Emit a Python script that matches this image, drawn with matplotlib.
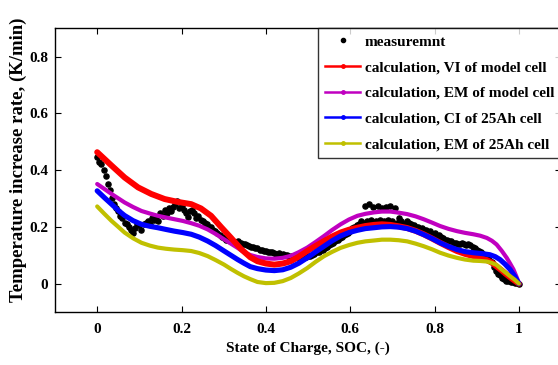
import matplotlib
matplotlib.use("Agg")
import matplotlib.pyplot as plt
from matplotlib.lines import Line2D

plt.rcParams['font.family'] = ['Liberation Serif', 'DejaVu Serif']
plt.rcParams['font.weight'] = 'bold'

# measured points (SOC, K/min)
meas_soc = [0.00, 0.01, 0.02, 0.03, 0.04, 0.05, 0.06, 0.07, 0.08, 0.09,
            0.10, 0.11, 0.12, 0.13, 0.14, 0.15, 0.16, 0.17, 0.18, 0.19,
            0.20, 0.21, 0.22, 0.23, 0.24, 0.25, 0.26, 0.27, 0.28, 0.29,
            0.30, 0.31, 0.32, 0.33, 0.34, 0.35, 0.36, 0.37, 0.38, 0.39,
            0.40, 0.41, 0.42, 0.43, 0.44, 0.45, 0.46, 0.47, 0.48, 0.49,
            0.50, 0.51, 0.52, 0.53, 0.54, 0.55, 0.56, 0.57, 0.58, 0.59,
            0.60, 0.61, 0.62, 0.63, 0.64, 0.65, 0.66, 0.67, 0.68, 0.69,
            0.70, 0.71, 0.72, 0.73, 0.74, 0.75, 0.76, 0.77, 0.78, 0.79,
            0.80, 0.81, 0.82, 0.83, 0.84, 0.85, 0.86, 0.87, 0.88, 0.89,
            0.90, 0.91, 0.92, 0.93, 0.94, 0.95, 0.96, 0.97, 0.98, 0.99, 1.00,
            0.005, 0.015, 0.025, 0.035, 0.045, 0.055, 0.065, 0.075, 0.085, 0.095,
            0.105, 0.115, 0.125, 0.135, 0.145, 0.155, 0.165, 0.175, 0.185, 0.195,
            0.205, 0.215, 0.225, 0.235, 0.245, 0.255, 0.265, 0.275, 0.285, 0.295,
            0.305, 0.315, 0.325, 0.335, 0.345, 0.355, 0.365, 0.375, 0.385, 0.395,
            0.405, 0.415, 0.425, 0.435, 0.445, 0.455, 0.465, 0.475, 0.485, 0.495,
            0.505, 0.515, 0.525, 0.535, 0.545, 0.555, 0.565, 0.575, 0.585, 0.595,
            0.605, 0.615, 0.625, 0.635, 0.645, 0.655, 0.665, 0.675, 0.685, 0.695,
            0.705, 0.715, 0.725, 0.735, 0.745, 0.755, 0.765, 0.775, 0.785, 0.795,
            0.805, 0.815, 0.825, 0.835, 0.845, 0.855, 0.865, 0.875, 0.885, 0.895,
            0.905, 0.915, 0.925, 0.935, 0.945, 0.955, 0.965, 0.975, 0.985, 0.995]
meas_rate = [0.445, 0.42, 0.38, 0.33, 0.28, 0.255, 0.23, 0.21, 0.19, 0.195,
             0.205, 0.21, 0.22, 0.23, 0.235, 0.25, 0.26, 0.265, 0.27, 0.29,
             0.275, 0.25, 0.255, 0.25, 0.24, 0.22, 0.21, 0.20, 0.185, 0.17,
             0.16, 0.155, 0.15, 0.148, 0.144, 0.14, 0.132, 0.128, 0.126, 0.12,
             0.115, 0.11, 0.109, 0.107, 0.105, 0.10, 0.098, 0.095, 0.093, 0.095,
             0.097, 0.10, 0.11, 0.118, 0.126, 0.135, 0.145, 0.155, 0.165, 0.175,
             0.185, 0.20, 0.21, 0.215, 0.22, 0.225, 0.22, 0.225, 0.22, 0.225,
             0.22, 0.215, 0.22, 0.21, 0.215, 0.205, 0.20, 0.195, 0.19, 0.185,
             0.18, 0.17, 0.16, 0.155, 0.15, 0.145, 0.14, 0.14, 0.138, 0.13,
             0.12, 0.11, 0.10, 0.085, 0.06, 0.035, 0.02, 0.01, 0.005, 0.002, 0.0,
             0.43, 0.40, 0.35, 0.30, 0.265, 0.24, 0.215, 0.20, 0.18, 0.21,
             0.19, 0.215, 0.21, 0.225, 0.22, 0.24, 0.25, 0.255, 0.28, 0.265,
             0.26, 0.235, 0.26, 0.23, 0.225, 0.215, 0.20, 0.19, 0.18, 0.165,
             0.155, 0.15, 0.145, 0.15, 0.14, 0.135, 0.13, 0.125, 0.12, 0.115,
             0.11, 0.11, 0.105, 0.10, 0.10, 0.095, 0.092, 0.09, 0.09, 0.094,
             0.098, 0.105, 0.112, 0.12, 0.13, 0.14, 0.15, 0.16, 0.17, 0.18,
             0.195, 0.205, 0.22, 0.275, 0.28, 0.27, 0.275, 0.265, 0.27, 0.275,
             0.265, 0.23, 0.21, 0.22, 0.21, 0.20, 0.19, 0.19, 0.18, 0.175,
             0.165, 0.165, 0.155, 0.15, 0.145, 0.14, 0.145, 0.135, 0.135, 0.125,
             0.115, 0.105, 0.095, 0.075, 0.045, 0.03, 0.015, 0.01, 0.005, 0.001]

# calculation, VI of model cell
vi_soc = [0.0, 0.034, 0.065, 0.097, 0.128, 0.16, 0.191, 0.223, 0.246, 0.27, 0.294,
          0.317, 0.341, 0.363, 0.38, 0.40, 0.42, 0.44, 0.459, 0.478, 0.498, 0.518,
          0.538, 0.557, 0.577, 0.597, 0.617, 0.636, 0.656, 0.675, 0.695, 0.715,
          0.735, 0.755, 0.774, 0.794, 0.813, 0.833, 0.853, 0.872, 0.892, 0.908,
          0.924, 0.936, 0.947, 0.959, 0.971, 0.985, 1.0]
vi_rate = [0.463, 0.416, 0.374, 0.339, 0.316, 0.298, 0.288, 0.280, 0.265, 0.239, 0.199,
           0.162, 0.122, 0.093, 0.079, 0.071, 0.067, 0.071, 0.079, 0.095, 0.115, 0.133,
           0.150, 0.166, 0.180, 0.190, 0.197, 0.203, 0.207, 0.209, 0.207, 0.202,
           0.196, 0.186, 0.174, 0.159, 0.144, 0.129, 0.115, 0.105, 0.097, 0.091,
           0.083, 0.074, 0.061, 0.047, 0.032, 0.016, 0.0]

# calculation, EM of model cell
em_model_soc = [0.0, 0.034, 0.065, 0.085, 0.105, 0.125, 0.144, 0.163, 0.183, 0.203,
                0.223, 0.242, 0.262, 0.281, 0.301, 0.317, 0.333, 0.348, 0.363, 0.38,
                0.40, 0.42, 0.44, 0.459, 0.478, 0.498, 0.518, 0.538, 0.557, 0.577,
                0.597, 0.617, 0.636, 0.656, 0.675, 0.695, 0.715, 0.735, 0.755, 0.774,
                0.794, 0.813, 0.833, 0.853, 0.872, 0.892, 0.908, 0.924, 0.936, 0.947,
                0.959, 0.971, 0.979, 0.987, 0.994, 1.0]
em_model_rate = [0.351, 0.316, 0.286, 0.270, 0.256, 0.247, 0.239, 0.233, 0.227, 0.221,
                 0.213, 0.204, 0.191, 0.175, 0.156, 0.141, 0.126, 0.111, 0.101, 0.094,
                 0.089, 0.088, 0.091, 0.098, 0.111, 0.127, 0.147, 0.168, 0.189, 0.209,
                 0.226, 0.239, 0.246, 0.251, 0.254, 0.254, 0.250, 0.245, 0.237, 0.227,
                 0.215, 0.203, 0.193, 0.185, 0.179, 0.174, 0.169, 0.161, 0.151, 0.138,
                 0.116, 0.091, 0.071, 0.050, 0.025, 0.002]

# calculation, CI of 25Ah cell
ci_soc = [0.0, 0.017, 0.034, 0.05, 0.065, 0.085, 0.105, 0.125, 0.144, 0.163, 0.183,
          0.203, 0.223, 0.242, 0.262, 0.281, 0.301, 0.317, 0.333, 0.348, 0.363, 0.38,
          0.40, 0.42, 0.44, 0.459, 0.478, 0.498, 0.518, 0.538, 0.557, 0.577, 0.597,
          0.617, 0.636, 0.656, 0.675, 0.695, 0.715, 0.735, 0.755, 0.774, 0.794,
          0.813, 0.833, 0.853, 0.872, 0.892, 0.912, 0.931, 0.944, 0.955, 0.967,
          0.979, 0.99, 1.0]
ci_rate = [0.327, 0.303, 0.280, 0.258, 0.240, 0.222, 0.209, 0.202, 0.197, 0.191, 0.185,
           0.180, 0.174, 0.164, 0.150, 0.134, 0.115, 0.100, 0.085, 0.072, 0.060, 0.053,
           0.048, 0.046, 0.049, 0.058, 0.072, 0.091, 0.112, 0.132, 0.151, 0.168, 0.180,
           0.188, 0.194, 0.197, 0.200, 0.201, 0.199, 0.194, 0.185, 0.173, 0.159,
           0.144, 0.131, 0.120, 0.113, 0.109, 0.106, 0.102, 0.095, 0.085, 0.069,
           0.050, 0.026, 0.0]

# calculation, EM of 25Ah cell
em_25_soc = [0.0, 0.017, 0.034, 0.05, 0.065, 0.085, 0.105, 0.125, 0.144, 0.163, 0.183,
             0.203, 0.223, 0.242, 0.262, 0.281, 0.301, 0.317, 0.333, 0.348, 0.363, 0.38,
             0.40, 0.42, 0.44, 0.459, 0.478, 0.498, 0.518, 0.538, 0.557, 0.577, 0.597,
             0.617, 0.636, 0.656, 0.675, 0.695, 0.715, 0.735, 0.755, 0.774, 0.794,
             0.813, 0.833, 0.853, 0.872, 0.892, 0.908, 0.924, 0.936, 0.947, 0.959,
             0.971, 0.981, 0.99, 1.0]
em_25_rate = [0.272, 0.246, 0.221, 0.200, 0.180, 0.160, 0.144, 0.134, 0.127, 0.123, 0.120,
              0.118, 0.115, 0.108, 0.097, 0.083, 0.067, 0.052, 0.038, 0.026, 0.016, 0.006,
              0.002, 0.003, 0.009, 0.020, 0.036, 0.055, 0.077, 0.097, 0.112, 0.126, 0.136,
              0.144, 0.149, 0.152, 0.155, 0.155, 0.153, 0.149, 0.141, 0.132, 0.121,
              0.109, 0.099, 0.091, 0.085, 0.081, 0.080, 0.078, 0.073, 0.066, 0.050,
              0.036, 0.024, 0.014, 0.0]

labels = ['measuremnt', 'calculation, VI of model cell', 'calculation, EM of model cell',
          'calculation, CI of 25Ah cell', 'calculation, EM of 25Ah cell']
colors = ['black', '#ff0000', '#c000c0', '#0000ff', '#c0c000']

fig = plt.figure(figsize=(5.58, 3.65), dpi=100)
ax = fig.add_axes([0.0986, 0.145, 0.907, 0.778])

ax.plot(meas_soc, meas_rate, 'o', color='black', ms=3.7, mec='black', zorder=2)
ax.plot(em_model_soc, em_model_rate, '-', color=colors[2], lw=3.0,
        solid_capstyle='round', solid_joinstyle='round', zorder=3)
ax.plot(vi_soc, vi_rate, '-', color=colors[1], lw=4.3,
        solid_capstyle='round', solid_joinstyle='round', zorder=4)
ax.plot(ci_soc, ci_rate, '-', color=colors[3], lw=3.7,
        solid_capstyle='round', solid_joinstyle='round', zorder=5)
ax.plot(em_25_soc, em_25_rate, '-', color=colors[4], lw=3.0,
        solid_capstyle='round', solid_joinstyle='round', zorder=6)

ax.set_xlim(-0.1, 1.1)
ax.set_ylim(-0.1, 0.9)
ax.set_xticks([0, 0.2, 0.4, 0.6, 0.8, 1])
ax.set_xticklabels(['0', '0.2', '0.4', '0.6', '0.8', '1'])
ax.set_yticks([0, 0.2, 0.4, 0.6, 0.8])
ax.set_yticklabels(['0', '0.2', '0.4', '0.6', '0.8'])
ax.tick_params(direction='in', top=True, right=True, length=4, width=0.8,
               labelsize=11)
ax.tick_params(axis='y', pad=5)
ax.tick_params(axis='x', pad=8)
for sp in ax.spines.values():
    sp.set_linewidth(1.0)

ax.set_xlabel('State of Charge, SOC, (-)', fontsize=11, fontweight='bold', labelpad=4)
ax.set_ylabel('Temperature increase rate, (K/min)', fontsize=13.5, fontweight='bold')
ax.yaxis.set_label_coords(-0.056, 0.535)

handles = [Line2D([], [], ls='none', marker='o', ms=3, color='black')]
for c in colors[1:]:
    handles.append(Line2D([], [], ls='-', lw=1.8, marker='.', ms=5, color=c))
leg = ax.legend(handles, labels, loc='upper right', frameon=True,
                fancybox=False, edgecolor='black', borderaxespad=0,
                handlelength=2.3, handletextpad=0.3, labelspacing=0.78,
                borderpad=0.45, prop={'weight': 'bold', 'size': 11})
leg.get_frame().set_linewidth(1.0)

fig.savefig('out.png', dpi=100)
